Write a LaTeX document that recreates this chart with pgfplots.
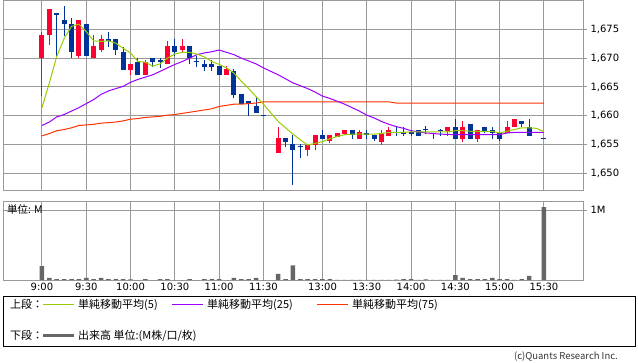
\documentclass[border=0pt]{standalone}
\usepackage{pgfplots}
\pgfplotsset{compat=1.18}
\usepackage{pgfplotstable}
\usepackage{fontspec}
\setmainfont{DejaVu Sans}
\newfontfamily\jp{Noto Sans CJK JP}
\definecolor{cred}{RGB}{255,0,51}
\definecolor{cblue}{RGB}{0,51,153}
\definecolor{gridc}{RGB}{153,153,153}
\definecolor{ma5c}{RGB}{153,204,0}
\definecolor{ma25c}{RGB}{153,0,255}
\definecolor{ma75c}{RGB}{255,51,0}
\definecolor{volc}{RGB}{102,102,102}

% red (up) candles: x body-low body-high low high
\pgfplotstableread{
x blo bhi lo hi
0 1670 1674 1663.5 1674.5
1 1674 1678.5 1672.3 1678.5
5 1670.4 1676.6 1670 1676.6
7 1670 1672.1 1670 1674
8 1671.4 1673.4 1671 1674
12 1667.9 1669 1667 1669
14 1667 1669.4 1667 1669.7
17 1669 1672.1 1669 1673
19 1671.4 1672.1 1671 1673.4
25 1667 1668.1 1667 1668.6
32 1653.5 1656.1 1653.5 1658.1
36 1654.1 1655.0 1653.0 1655.0
37 1655.0 1656.6 1654.0 1656.6
39 1655.6 1656.6 1655.2 1656.6
40 1656.3 1657.0 1656.3 1657.0
41 1656.8 1657.6 1656.8 1657.6
43 1656.0 1657.1 1656.0 1657.6
46 1655.4 1657.0 1655.0 1657.6
47 1656.4 1657.6 1656.4 1658.0
55 1657.4 1658.0 1656.5 1658.0
57 1656.0 1658.0 1655.4 1659.1
59 1656.0 1657.6 1655.4 1657.6
63 1657.0 1658.0 1657.0 1659.0
64 1658.0 1659.5 1658.0 1659.5
}\redT

% blue (down) candles
\pgfplotstableread{
x blo bhi lo hi
2 1677.4 1677.9 1670.4 1677.9
3 1675.9 1676.6 1673.9 1679
4 1671 1676 1670 1676.9
6 1670.4 1676 1670.4 1676
9 1673.0 1673.4 1672 1674.5
10 1671.4 1673.4 1670.5 1673.4
11 1667.9 1671.1 1667.9 1672
13 1667 1669.4 1667 1670
15 1669.4 1670 1668.4 1670
16 1669.4 1669.6 1668.3 1670
18 1671 1672.1 1670.4 1673.4
20 1670 1672.1 1669 1672.1
21 1669.3 1669.5 1668.4 1670.3
22 1668.4 1669 1667.8 1669.6
23 1668.4 1669 1667.8 1669.6
24 1667 1668.6 1667 1668.6
26 1663.6 1667.7 1663 1668.1
27 1662.1 1663.7 1662.1 1663.7
28 1662.1 1662.6 1659.9 1662.6
29 1660.4 1661.6 1660.4 1663.2
30 1659.9 1660.1 1659.9 1660.1
33 1655.5 1656.1 1654.6 1656.1
34 1654.1 1655.1 1648.0 1656.6
35 1654.5 1654.7 1652.6 1655.1
38 1655.9 1656.6 1655.9 1657.6
42 1656.6 1657.6 1656.0 1657.6
44 1656.6 1657.0 1656.0 1657.6
45 1656.0 1656.6 1655.6 1656.6
48 1657.0 1657.2 1656.4 1658.0
49 1656.9 1657.1 1656.4 1658.0
50 1656.9 1657.2 1656.5 1657.5
51 1656.4 1657.6 1656.4 1657.6
52 1657.5 1657.7 1656.9 1658.2
53 1656.8 1657.0 1656.0 1657.0
54 1657.4 1657.6 1656.4 1657.7
56 1656.0 1658.0 1656.0 1659.5
58 1656.0 1658.6 1656.0 1658.6
60 1657.4 1658.0 1657.0 1658.0
61 1657.0 1657.6 1656.0 1658.0
62 1656.0 1657.0 1655.6 1657.0
65 1658.6 1659.1 1658.0 1659.1
66 1656.4 1658.0 1656.4 1659.5
68 1655.9 1656.1 1655.9 1656.1
}\blueT

\pgfplotsset{
  base/.style={
    scale only axis, width=580pt,
    xmin=-5.28, xmax=73.29,
    axis line style={gridc, line width=1pt},
    xtick=\empty,
    extra x ticks={0,6,12,18,24,30,38,44,50,56,62,68},
    extra x tick style={grid=major, major tick length=0pt},
    ymajorgrids,
    major grid style={gridc, line width=1pt},
    ytick pos=right, yticklabel pos=right,
    tick align=outside, major tick length=4pt,
    tick style={gridc, line width=1pt},
    ticklabel style={font=\fontsize{10}{12}\selectfont, text=black},
    /pgf/number format/assume math mode=true,
    /pgf/number format/1000 sep={,},
    scaled y ticks=false,
  },
  candle/.style={draw=none, fill=none, mark=none, forget plot,
    error bars/.cd, y dir=both, y explicit, error mark=none,
    error bar style={draw=#1, line width=1pt}},
  body/.style={draw=none, fill=none, mark=none, forget plot,
    error bars/.cd, y dir=both, y explicit, error mark=none,
    error bar style={draw=#1, line width=5pt}},
}

\begin{document}
\begin{tikzpicture}
\path[use as bounding box] (0,0) rectangle (638pt,-362pt);

\begin{axis}[base,
  at={(3pt,-0.5pt)}, anchor=north west, height=189.5pt,
  ymin=1647.1, ymax=1680,
  ytick={1650,1655,1660,1665,1670,1675},
  extra x tick labels={},
]
% wicks
\addplot[candle=cred]
  table[x=x, y=lo, y error plus expr=\thisrow{hi}-\thisrow{lo}, y error minus expr=0] {\redT};
\addplot[candle=cblue]
  table[x=x, y=lo, y error plus expr=\thisrow{hi}-\thisrow{lo}, y error minus expr=0] {\blueT};
% bodies
\addplot[body=cred]
  table[x=x, y=blo, y error plus expr=\thisrow{bhi}-\thisrow{blo}, y error minus expr=0] {\redT};
\addplot[body=cblue]
  table[x=x, y=blo, y error plus expr=\thisrow{bhi}-\thisrow{blo}, y error minus expr=0] {\blueT};

% MA 75
\addplot[ma75c, line width=1pt, mark=none] coordinates {
(0,1656.5)(1,1656.9)(2,1657.4)(3,1657.6)(4,1657.9)(5,1658.3)(6,1658.4)(7,1658.5)
(8,1658.7)(9,1658.8)(10,1658.9)(11,1659.1)(12,1659.4)(13,1659.5)(14,1659.7)
(15,1659.8)(16,1659.9)(17,1660.1)(18,1660.2)(19,1660.4)(20,1660.6)(21,1660.8)
(22,1661.0)(23,1661.2)(24,1661.6)(25,1661.8)(26,1662.0)(27,1662.0)(28,1662.1)
(29,1662.2)(30,1662.4)(32,1662.4)(47,1662.4)(48,1662.2)(68,1662.2)};
% MA 25
\addplot[ma25c, line width=1pt, mark=none] coordinates {
(0,1658.3)(1,1658.9)(2,1659.8)(3,1660.2)(4,1660.8)(5,1661.4)(6,1662.1)(7,1662.8)
(8,1663.7)(9,1664.3)(10,1664.7)(11,1665.1)(12,1665.8)(13,1666.3)(14,1666.7)
(15,1667.1)(16,1667.7)(17,1668.3)(18,1668.9)(19,1669.4)(20,1670.0)(21,1670.6)
(22,1670.9)(23,1671.1)(24,1671.4)(25,1671.0)(26,1670.6)(27,1670.0)(28,1669.5)
(29,1669.0)(30,1668.3)(32,1667.1)(34,1665.7)(36,1664.7)(37,1664.1)(38,1663.4)
(39,1663.0)(40,1662.5)(41,1662.0)(42,1661.4)(43,1660.8)(44,1660.1)(45,1659.6)
(46,1659.0)(47,1658.5)(48,1658.1)(49,1657.8)(50,1657.4)(51,1657.2)(52,1657.0)
(53,1656.9)(54,1656.8)(56,1656.7)(60,1656.7)(62,1656.7)(63,1657.0)(64,1657.1)(68,1657.1)};
% MA 5
\addplot[ma5c, line width=1pt, mark=none] coordinates {
(0,1661.4)(1,1665.7)(2,1670.3)(3,1673.4)(4,1675.5)(5,1675.9)(6,1674.6)(7,1673.0)
(8,1672.9)(9,1673.0)(10,1672.6)(11,1671.7)(12,1670.9)(13,1669.4)(14,1669.3)
(15,1668.6)(16,1669.0)(17,1670.0)(18,1670.7)(19,1671.0)(20,1671.0)(21,1670.7)
(22,1670.2)(23,1669.4)(24,1668.9)(25,1668.3)(26,1667.4)(27,1666.0)(28,1664.7)
(29,1663.3)(30,1662.0)(32,1659.0)(33,1657.9)(34,1656.8)(35,1655.8)(36,1654.9)
(37,1655.2)(38,1655.5)(39,1656.0)(40,1656.4)(41,1656.7)(42,1656.8)(43,1656.8)
(44,1656.8)(45,1656.8)(46,1656.9)(47,1657.1)(48,1657.1)(49,1657.1)(50,1657.2)
(51,1657.2)(52,1657.2)(53,1657.2)(54,1657.2)(55,1657.2)(56,1657.4)(57,1657.4)
(58,1657.3)(59,1657.3)(60,1657.3)(61,1657.3)(62,1657.0)(63,1657.3)(64,1657.6)
(65,1657.9)(66,1657.9)(67,1657.8)(68,1657.2)};
\end{axis}

\begin{axis}[base,
  at={(3pt,-201pt)}, anchor=north west, height=79pt,
  ymin=0, ymax=1.1286,
  ytick={1}, yticklabels={1M},
  extra x tick labels={9:00,9:30,10:00,10:30,11:00,11:30,13:00,13:30,14:00,14:30,15:00,15:30},
]
\addplot[ybar, bar width=4.5pt, fill=volc, draw=none] coordinates {
(0,0.20)(1,0.03)(2,0.014)(3,0.014)(4,0.014)(5,0.014)(6,0.03)(7,0.014)(8,0.03)
(9,0.014)(10,0.014)(11,0.014)(12,0.01)(13,0)(14,0.014)(15,0)(16,0.014)(17,0.014)
(18,0)(19,0)(20,0.014)(21,0)(22,0.014)(23,0.014)(24,0.014)(25,0)(26,0.03)
(27,0.014)(28,0.014)(29,0.03)(30,0)(32,0.086)(33,0.014)(34,0.21)(35,0.014)
(36,0.014)(37,0.014)(38,0.014)(39,0.014)(40,0.003)(41,0.003)(42,0.003)(43,0.003)
(44,0.003)(45,0.003)(46,0.003)(47,0.003)(48,0.005)(49,0.014)(50,0.014)(51,0.003)
(52,0.01)(53,0.003)(54,0.003)(55,0.003)(56,0.07)(57,0.03)(58,0.014)(59,0.014)
(60,0.014)(61,0.03)(62,0.014)(63,0.014)(64,0.003)(65,0.014)(66,0.06)(68,1.04)};
\end{axis}

\node[anchor=west, inner sep=0pt, font=\jp\fontsize{10.5}{12}\selectfont] at (7pt,-209.5pt) {単位: M};

% legend box
\draw[black, line width=1pt] (3.5pt,-296pt) rectangle (635.5pt,-346pt);
\begin{scope}[every node/.style={anchor=west, inner sep=0pt, font=\jp\fontsize{11}{13}\selectfont}]
\node at (10pt,-304.5pt) {上段：};
\draw[ma5c, line width=1pt] (43pt,-304.5pt) -- (74pt,-304.5pt);
\node at (78pt,-304.5pt) {単純移動平均(5)};
\draw[ma25c, line width=1pt] (172pt,-304.5pt) -- (203pt,-304.5pt);
\node at (207pt,-304.5pt) {単純移動平均(25)};
\draw[ma75c, line width=1pt] (317pt,-304.5pt) -- (348pt,-304.5pt);
\node at (352pt,-304.5pt) {単純移動平均(75)};
\node at (10pt,-335.5pt) {下段：};
\draw[volc, line width=2.5pt] (43pt,-335.5pt) -- (74pt,-335.5pt);
\node at (78pt,-335.5pt) {出来高 単位:(M株/口/枚)};
\end{scope}
\node[anchor=east, inner sep=0pt, font=\jp\fontsize{9.5}{11}\selectfont, text=black!80] at (618pt,-357pt) {(c)Quants Research Inc.};
\end{tikzpicture}
\end{document}
